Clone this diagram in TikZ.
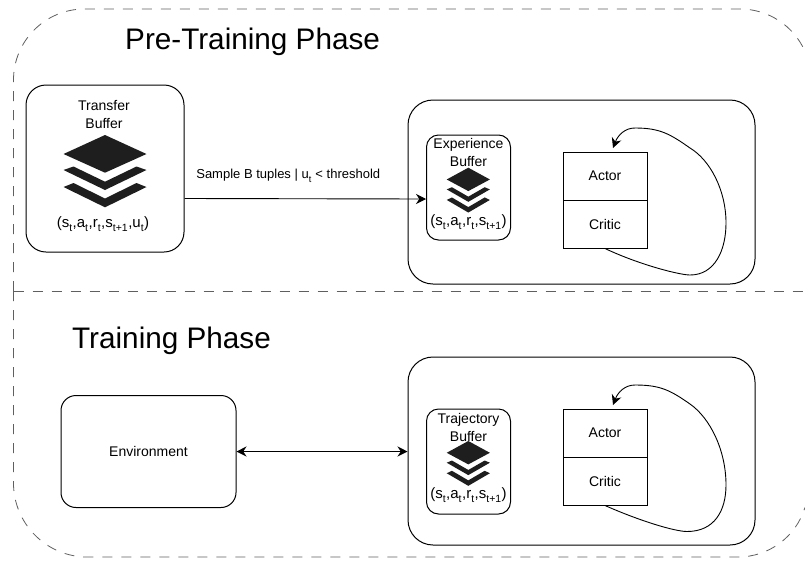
\documentclass[tikz,border=0pt]{standalone}
\usepackage{fontspec}
\setmainfont{Liberation Sans}
\usepackage{tikz}
\usetikzlibrary{arrows.meta, positioning}
\definecolor{dashgray}{RGB}{95, 95, 95}
\definecolor{stackblack}{RGB}{30, 30, 30}
\newcommand{\sub}[1]{\raisebox{-0.12em}{\textsubscript{#1}}}
\newcommand{\tuplefour}{(s\sub{t},a\sub{t},r\sub{t},s\sub{t+1})}
\tikzset{
    phase/.style={draw=dashgray, line width=0.8pt, dash pattern=on 10pt off 9pt},
    title/.style={font=\fontsize{29.7}{32}\selectfont, inner sep=0pt},
    label/.style={font=\fontsize{14}{18}\selectfont, inner sep=0pt, align=center},
    tuple/.style={font=\fontsize{15}{18}\selectfont, inner sep=0pt},
    agentbox/.style={draw, line width=1pt, rounded corners=25pt, minimum width=347pt, inner sep=0pt},
    bufferbox/.style={draw, line width=1pt, rounded corners=12pt, minimum width=84pt, inner sep=0pt},
    netbox/.style={draw, line width=1pt, minimum width=84pt, minimum height=48pt, font=\fontsize{14}{18}\selectfont, inner sep=0pt},
    link/.style={line width=0.9pt, -{Stealth[length=10pt,width=10pt]}},
    loop/.style={line width=0.9pt, -{Stealth[length=10pt,width=10pt]}}
}
% layers icon, top tip at the given point
\newcommand{\layers}[4]{
\begin{scope}[shift={(#1,#2)}, xscale=#3, yscale=#4]
    \fill[stackblack] (-41.5,19) -- (0,0) -- (41.5,19) -- (0,37.7) -- cycle;
    \fill[stackblack] (-41.5,35) -- (-31.5,31.5) -- (0,46.7) -- (31.5,31.5) -- (41.5,35) -- (0,55) -- cycle;
    \fill[stackblack] (-41.5,52) -- (-31.5,48) -- (0,63.5) -- (31.5,48) -- (41.5,52) -- (0,72.3) -- cycle;
\end{scope}
}
\begin{document}
\begin{tikzpicture}[x=1pt, y=-1pt]
\useasboundingbox (0,0) rectangle (805,560);

% Phase outlines
\draw[phase] (13.5,291) -- (13.5,80) arc[start angle=180, end angle=270, radius=71] -- (740,9) arc[start angle=270, end angle=336, radius=71];
\draw[phase] (13.5,291) -- (13.5,483) arc[start angle=180, end angle=90, radius=74] -- (738,557) arc[start angle=90, end angle=17, radius=70];
\draw[phase] (13.5,291) -- (805,291);

\node[title, anchor=west] (pretitle) at (125,42) {Pre-Training Phase};
\node[title, anchor=west] (traintitle) at (72,341) {Training Phase};

% Pre-training phase
\node[draw, line width=1pt, rounded corners=20pt, minimum width=158pt, minimum height=167pt] (transfer) at (105,168.5) {};
\node[label] (transfertext) at (104,114) {Transfer\\Buffer};
\layers{105}{135}{1}{1}
\node[tuple] (transfertuple) at (103,224.5) {(s\sub{t},a\sub{t},r\sub{t},s\sub{t+1},u\sub{t})};

\node[agentbox, minimum height=184pt] (agentone) at (581.5,192) {};
\node[bufferbox, minimum height=105pt] (expbuffer) at (468.5,187.5) {};
\node[label] (exptext) at (468.5,152.5) {Experience\\Buffer};
\layers{468.3}{167.7}{0.52}{0.62}
\node[tuple] (exptuple) at (468.5,222.5) {\tuplefour};
\node[netbox] (actorone) at (605,176) {Actor};
\node[netbox] (criticone) at (605,224) {Critic};

\draw[link] ([yshift=-30pt]transfer.east) -- node[label, font=\fontsize{13}{16}\selectfont, above=16pt, xshift=-17pt] (sampletext) {Sample B tuples | u\sub{t} < threshold} ([yshift=-11.5pt]expbuffer.west);
\coordinate (actoronein) at (613,148);
\draw[loop] (criticone.south) .. controls (640,265) and (680,275) .. (690,275) .. controls (715,275) and (726,250) .. (726,223) .. controls (726,190) and (710,160) .. (690,148) .. controls (670,134) and (660,128) .. (635,128) .. controls (625,128) and (618,135) .. (actoronein);

% Training phase
\node[draw, line width=1pt, rounded corners=15pt, minimum width=175pt, minimum height=112pt, font=\fontsize{14}{18}\selectfont] (environment) at (148.5,451.5) {Environment};

\node[agentbox, minimum height=188pt] (agenttwo) at (581.5,451) {};
\node[bufferbox, minimum height=105pt] (trajbuffer) at (468.5,461.5) {};
\node[label] (trajtext) at (468.5,427) {Trajectory\\Buffer};
\layers{468.3}{441}{0.52}{0.62}
\node[tuple] (trajtuple) at (468.5,495.5) {\tuplefour};
\node[netbox] (actortwo) at (605,433) {Actor};
\node[netbox] (critictwo) at (605,481) {Critic};

\draw[line width=1pt, {Stealth[length=10pt,width=10pt]}-{Stealth[length=10pt,width=10pt]}] (environment.east) -- (agenttwo.west |- environment.east);
\coordinate (actortwoin) at (613,405);
\draw[loop] (critictwo.south) .. controls (640,521) and (675,531.5) .. (687,531.5) .. controls (715,531.5) and (726,510) .. (726,485) .. controls (726,450) and (710,418) .. (690,404) .. controls (670,390) and (660,385) .. (635,385) .. controls (625,385) and (618,392) .. (actortwoin);
\end{tikzpicture}
\end{document}
